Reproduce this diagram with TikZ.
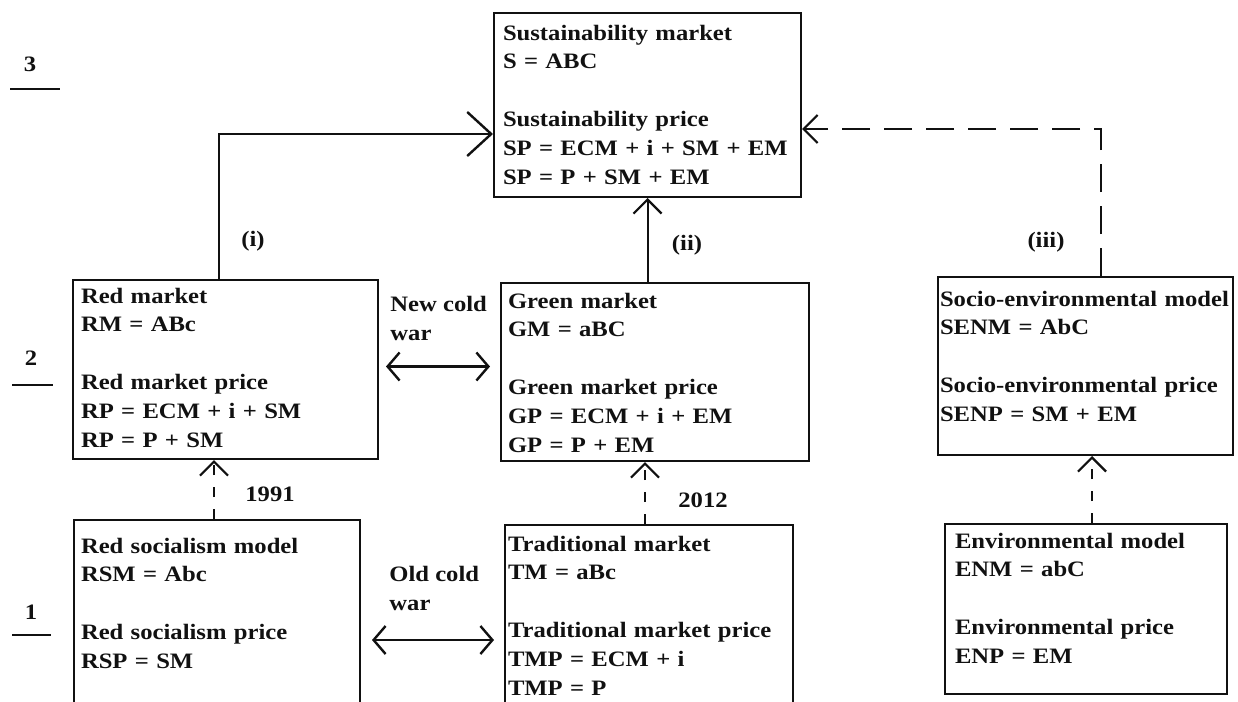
\documentclass[tikz,border=0pt]{standalone}
\usepackage{fontspec}
\setmainfont{Liberation Serif}[FakeStretch=1.12]
\usetikzlibrary{arrows.meta}
\definecolor{ink}{HTML}{111111}
\tikzset{
  box/.style={draw=ink,line width=1pt,anchor=north west,align=left,inner ysep=0pt,text=ink,
    font=\fontsize{11}{14.4}\selectfont\bfseries},
  lbl/.style={text=ink,inner sep=0pt,font=\fontsize{11}{14.4}\selectfont\bfseries},
  arr/.style={-{Straight Barb[length=7pt,width=14pt,line width=1.1pt]},line width=1pt,draw=ink},
  bigarr/.style={-{Straight Barb[length=12pt,width=22pt,line width=1.2pt]},line width=1pt,draw=ink},
  dbl/.style={{Straight Barb[length=6pt,width=14pt,line width=1.2pt]}-{Straight Barb[length=6pt,width=14pt,line width=1.2pt]},
    line width=1.2pt,draw=ink},
  shortdash/.style={dash pattern=on 5pt off 6pt},
  longdash/.style={dash pattern=on 14pt off 7pt},
  rule/.style={line width=1pt,draw=ink},
}

\begin{document}
\begin{tikzpicture}[x=0.5pt,y=-0.5pt]
    \useasboundingbox (0,0) rectangle (1238,702);
    \clip (0,0) rectangle (1238,702);
    % levels
    \node[lbl] (lev3) at (30,64) {3};
    \draw[rule] (10,89) -- (60,89);
    \node[lbl] (lev2) at (31,358) {2};
    \draw[rule] (12,385) -- (53,385);
    \node[lbl] (lev1) at (31,612) {1};
    \draw[rule] (12,635) -- (51,635);
    % level 3
    \node[box,text width=144.5pt,inner xsep=4.5pt,text height=13.5pt,text depth=78.5pt] (sust) at (493,12)
      {Sustainability market\\ S = ABC\\[14.4pt] Sustainability price\\ \mbox{SP = ECM + i + SM + EM}\\ SP = P + SM + EM};
    % level 2
    \node[box,text width=144.5pt,inner xsep=4pt,text height=11.5pt,text depth=78pt] (red) at (72,279)
      {Red market\\ RM = ABc\\[14.4pt] Red market price\\ RP = ECM + i + SM\\ RP = P + SM};
    \node[box,text width=147pt,inner xsep=3.5pt,text height=12.5pt,text depth=76.5pt] (green) at (500,282)
      {Green market\\ GM = aBC\\[14.4pt] Green market price\\ GP = ECM + i + EM\\ GP = P + EM};
    \node[box,text width=145.5pt,inner xsep=1pt,text height=14.5pt,text depth=74.5pt] (senm) at (937,276)
      {\mbox{Socio-environmental model}\\ SENM = AbC\\[14.4pt] \mbox{Socio-environmental price}\\ SENP = SM + EM};
    % level 1
    \node[box,text width=136pt,inner xsep=3.5pt,text height=16.5pt,text depth=89pt] (redsoc) at (73,519)
      {Red socialism model\\ RSM = Abc\\[14.4pt] Red socialism price\\ RSP = SM};
    \node[box,text width=141pt,inner xsep=1.5pt,text height=13pt,text depth=90pt] (trad) at (504,524)
      {Traditional market\\ TM = aBc\\[14.4pt] \mbox{Traditional market price}\\ TMP = ECM + i\\ TMP = P};
    \node[box,text width=131pt,inner xsep=5pt,text height=12pt,text depth=73pt] (env) at (944,523)
      {Environmental model\\ ENM = abC\\[14.4pt] Environmental price\\ ENP = EM};
    % labels
    \node[lbl] (li) at (253,241) {(i)};
    \node[lbl] (lii) at (687,245) {(ii)};
    \node[lbl] (liii) at (1046,242) {(iii)};
    \node[lbl] (y91) at (270,494) {1991};
    \node[lbl] (y12) at (703,500) {2012};
    \node[lbl,anchor=north west,align=left] (ncw) at (390,296) {New cold\\war};
    \node[lbl,anchor=north west,align=left] (ocw) at (389,566) {Old cold\\war};
    \coordinate (oldcw) at (432,640);
    % connectors
    \draw[bigarr] ([xshift=-3.5pt]red.north) |- ([yshift=-14.5pt]sust.west);
    \draw[arr] (sust.south |- green.north) -- (sust.south);
    \draw[arr,longdash] ([xshift=7.75pt]senm.north) |- ([yshift=-12pt]sust.east);
    \draw[dbl] ([xshift=3.5pt,yshift=1.5pt]red.east) -- ([xshift=-5pt,yshift=1.5pt]red.east -| green.west);
    \draw[dbl] ([xshift=5.5pt]oldcw -| redsoc.east) -- ([xshift=-5pt]oldcw -| trad.west);
    \draw[arr,shortdash] ([xshift=-1.5pt]redsoc.north) -- ([xshift=-1.5pt]redsoc.north |- red.south);
    \draw[arr,shortdash] ([xshift=-2pt]trad.north) -- ([xshift=-2pt]trad.north |- green.south);
    \draw[arr,shortdash] ([xshift=3pt]env.north) -- ([xshift=3pt]env.north |- senm.south);
\end{tikzpicture}
\end{document}
